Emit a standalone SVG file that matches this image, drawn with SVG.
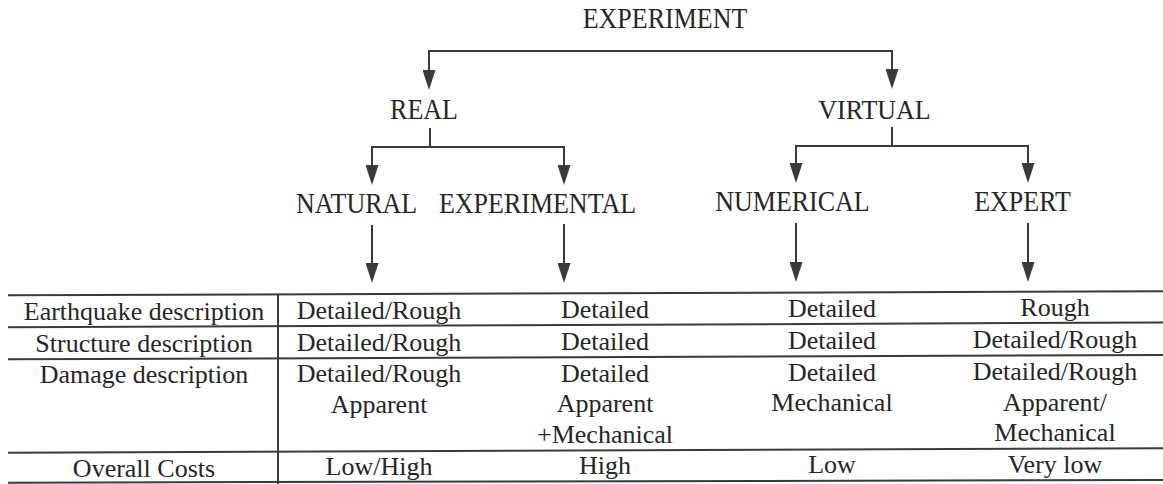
<svg xmlns="http://www.w3.org/2000/svg" width="1163" height="484" viewBox="0 0 1163 484">
<style>
  text { font-family: "Liberation Serif", "Times New Roman", serif; font-size: 26px; fill: #262626; text-anchor: middle; }
  .conn line, .conn path { stroke: #3a3a3a; stroke-width: 2; fill: none; }
  .arrow { marker-end: url(#ah); }
  .grid line { stroke: #3a3a3a; stroke-width: 2; }
</style>
<defs>
  <marker id="ah" viewBox="0 0 20 13" refX="12" refY="6.5" markerWidth="20" markerHeight="13" markerUnits="userSpaceOnUse" orient="auto">
    <path d="M0,0 L20,6.5 L0,13 z" fill="#3a3a3a"/>
  </marker>
</defs>
<rect width="1163" height="484" fill="#ffffff"/>

<g id="node-experiment"><text transform="translate(665,28) scale(1,1.12)">EXPERIMENT</text></g>
<g id="node-real"><text transform="translate(424,119) scale(1,1.1)">REAL</text></g>
<g id="node-virtual"><text transform="translate(874.5,118.5) scale(1,1.05)">VIRTUAL</text></g>
<g id="node-natural"><text transform="translate(356.5,212.5) scale(1,1.15)">NATURAL</text></g>
<g id="node-experimental"><text transform="translate(537.5,212.5) scale(1,1.15)">EXPERIMENTAL</text></g>
<g id="node-numerical"><text transform="translate(792.5,211) scale(1,1.12)">NUMERICAL</text></g>
<g id="node-expert"><text transform="translate(1022.5,211) scale(1,1.12)">EXPERT</text></g>

<g id="connectors" class="conn">
  <path d="M429,51 H892"/>
  <line class="arrow" x1="429" y1="50" x2="429" y2="82"/>
  <line class="arrow" x1="892" y1="50" x2="892" y2="81"/>
  <path d="M430,128 V147 M372,147 H564"/>
  <line class="arrow" x1="372" y1="146" x2="372" y2="177"/>
  <line class="arrow" x1="564" y1="146" x2="564" y2="177"/>
  <path d="M892,127 V146 M796,146 H1028"/>
  <line class="arrow" x1="796" y1="145" x2="796" y2="175"/>
  <line class="arrow" x1="1028" y1="145" x2="1028" y2="175"/>
  <line class="arrow" x1="372" y1="225" x2="372" y2="275"/>
  <line class="arrow" x1="564" y1="224" x2="564" y2="275"/>
  <line class="arrow" x1="796" y1="223" x2="796" y2="274"/>
  <line class="arrow" x1="1028" y1="223" x2="1028" y2="274"/>
</g>

<g id="table">
  <g class="grid">
    <line x1="8" y1="295.3" x2="1163" y2="291.3"/>
    <line x1="8" y1="327.3" x2="1163" y2="322.5"/>
    <line x1="8" y1="359.3" x2="1163" y2="355"/>
    <line x1="8" y1="452.7" x2="1163" y2="448.3"/>
    <line x1="8" y1="482.7" x2="1163" y2="480"/>
    <line x1="278" y1="294.5" x2="278" y2="484"/>
  </g>
  <g id="row-earthquake">
    <text x="144" y="320">Earthquake description</text>
    <text x="379" y="319.4">Detailed/Rough</text>
    <text x="605" y="318.4">Detailed</text>
    <text x="832" y="317.3">Detailed</text>
    <text x="1055" y="316.2">Rough</text>
  </g>
  <g id="row-structure">
    <text x="144" y="351.6">Structure description</text>
    <text x="379" y="350.6">Detailed/Rough</text>
    <text x="605" y="349.8">Detailed</text>
    <text x="832" y="349">Detailed</text>
    <text x="1055" y="348.3">Detailed/Rough</text>
  </g>
  <g id="row-damage">
    <text x="144" y="383.3">Damage description</text>
    <text x="379" y="382.3">Detailed/Rough</text>
    <text x="379" y="412.7">Apparent</text>
    <text x="605" y="381.7">Detailed</text>
    <text x="605" y="411.7">Apparent</text>
    <text x="605" y="442.6">+Mechanical</text>
    <text x="832" y="380.8">Detailed</text>
    <text x="832" y="411.3">Mechanical</text>
    <text x="1055" y="380">Detailed/Rough</text>
    <text x="1055" y="411">Apparent/</text>
    <text x="1055" y="441">Mechanical</text>
  </g>
  <g id="row-costs">
    <text x="144" y="476.6">Overall Costs</text>
    <text x="379" y="474.5">Low/High</text>
    <text x="605" y="474.3">High</text>
    <text x="832" y="473.4">Low</text>
    <text x="1055" y="472.7">Very low</text>
  </g>
</g>
</svg>
